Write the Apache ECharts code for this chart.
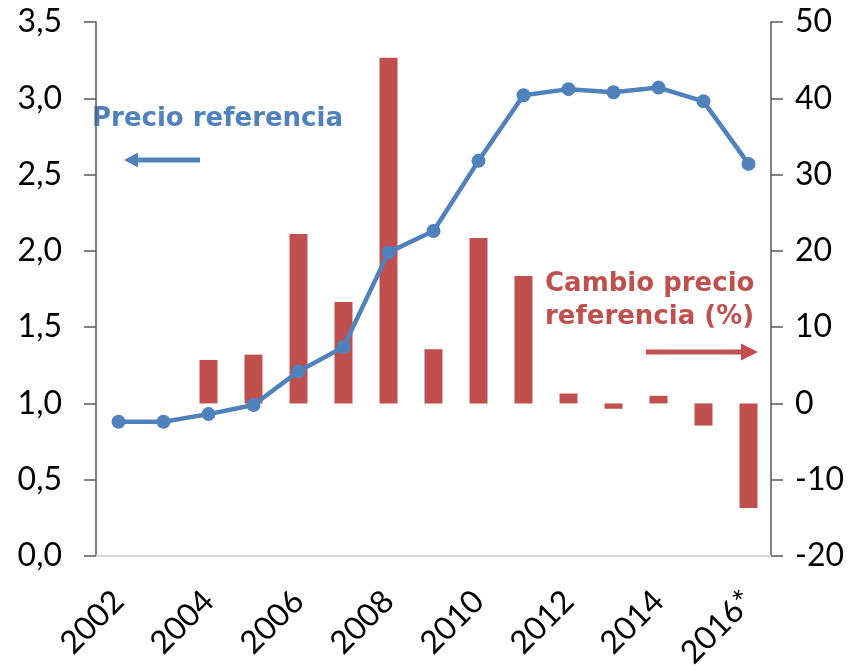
<!DOCTYPE html>
<html>
<head>
<meta charset="utf-8">
<script src="https://cdn.jsdelivr.net/npm/echarts@6/dist/echarts.min.js"></script>
<style>
  html, body { margin: 0; padding: 0; background: #fff; }
  #chart { width: 856px; height: 672px; }
</style>
</head>
<body>
<div id="chart"></div>
<script>
const years = ["2002", "2003", "2004", "2005", "2006", "2007", "2008", "2009",
  "2010", "2011", "2012", "2013", "2014", "2015", "2016*"];
const precio = [0.88, 0.88, 0.93, 0.99, 1.21, 1.37, 1.99, 2.13,
  2.59, 3.02, 3.06, 3.04, 3.07, 2.98, 2.57];
const cambio = [null, 0, 5.7, 6.4, 22.2, 13.3, 45.3, 7.1,
  21.7, 16.7, 1.3, -0.7, 1.0, -2.9, -13.7];

const BLUE = "#4F81BD";
const RED = "#C0504D";
const tickFont = "Lato, 'Open Sans', sans-serif";
const noteFont = "'DejaVu Sans', Verdana, sans-serif";

const chart = echarts.init(document.getElementById("chart"));

const axisBase = {
  type: "value",
  axisLine: { show: true, lineStyle: { color: "#595959", width: 1.5 } },
  axisTick: { show: true, inside: false, length: 12, lineStyle: { color: "#595959", width: 1.5 } },
  splitLine: { show: false },
  axisLabel: { color: "#000", fontSize: 32, fontFamily: tickFont },
};

chart.setOption({
  animation: false,
  grid: { left: 96, right: 85, top: 22, bottom: 116, outerBoundsMode: "none", containLabel: false },
  xAxis: {
    type: "category",
    data: years,
    boundaryGap: true,
    axisLine: { show: true, onZero: false, lineStyle: { color: "#d9d9d9", width: 2 } },
    axisTick: { show: false },
    axisLabel: {
      interval: 1,
      rotate: 45,
      color: "#000",
      fontSize: 32,
      fontFamily: tickFont,
      margin: 40,
    },
  },
  yAxis: [
    Object.assign({}, axisBase, {
      position: "left",
      min: 0, max: 3.5, interval: 0.5,
      axisLabel: Object.assign({}, axisBase.axisLabel, {
        margin: 34,
        formatter: (v) => v.toFixed(1).replace(".", ","),
      }),
    }),
    Object.assign({}, axisBase, {
      position: "right",
      min: -20, max: 50, interval: 10,
      axisLabel: Object.assign({}, axisBase.axisLabel, { margin: 24 }),
    }),
  ],
  series: [
    {
      name: "Cambio precio referencia (%)",
      type: "bar",
      yAxisIndex: 1,
      data: cambio,
      barWidth: 18,
      itemStyle: { color: RED },
      z: 1,
    },
    {
      name: "Precio referencia",
      type: "line",
      yAxisIndex: 0,
      data: precio,
      symbol: "circle",
      symbolSize: 14,
      lineStyle: { color: BLUE, width: 4.5 },
      itemStyle: { color: BLUE },
      z: 3,
    },
  ],
  graphic: [
    {
      type: "text", left: 92, top: 106,
      style: { text: "Precio referencia", fill: BLUE, font: "bold 26px " + noteFont },
    },
    {
      type: "line", shape: { x1: 200, y1: 160, x2: 136, y2: 160 },
      style: { stroke: BLUE, lineWidth: 5 },
    },
    {
      type: "polygon", shape: { points: [[124, 160], [138, 152.5], [138, 167.5]] },
      style: { fill: BLUE },
    },
    {
      type: "text", left: 545, top: 268,
      style: {
        text: "Cambio precio\nreferencia (%)", fill: RED,
        font: "bold 26px " + noteFont, lineHeight: 33,
      },
    },
    {
      type: "line", shape: { x1: 646, y1: 352, x2: 743, y2: 352 },
      style: { stroke: RED, lineWidth: 5 },
    },
    {
      type: "polygon", shape: { points: [[758, 352], [741, 343.5], [741, 360.5]] },
      style: { fill: RED },
    },
  ],
});
</script>
</body>
</html>
